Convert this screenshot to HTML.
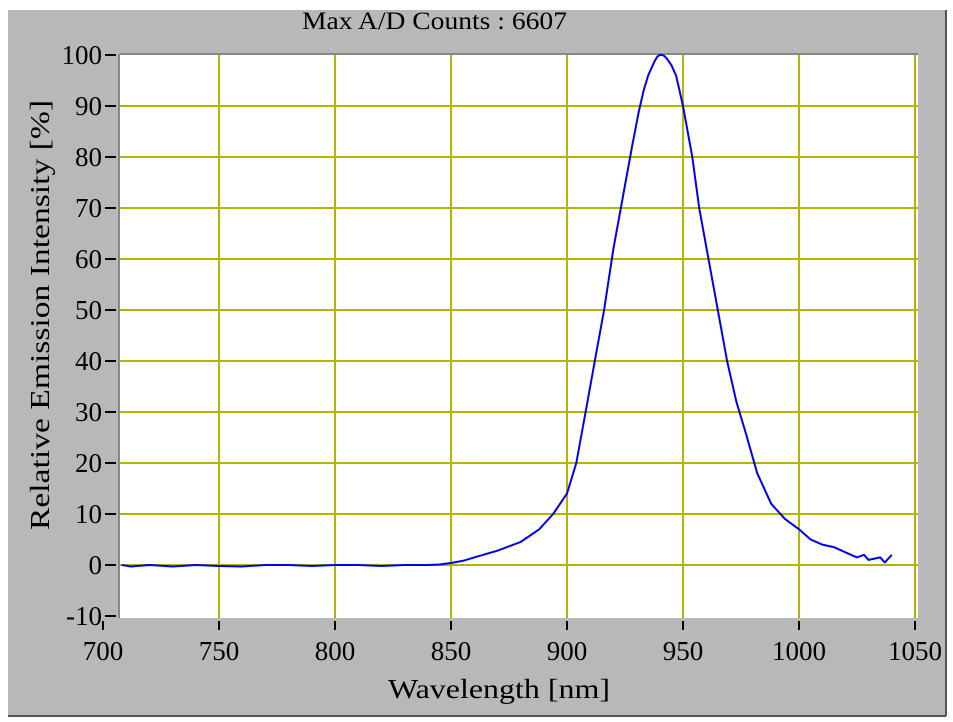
<!DOCTYPE html>
<html><head><meta charset="utf-8"><style>
html,body{margin:0;padding:0;background:#fff;}
svg{display:block;font-family:"Liberation Serif",serif;}
</style></head><body>
<svg width="953" height="722" xmlns="http://www.w3.org/2000/svg">
<rect x="8" y="10" width="938" height="706" fill="#b8b8b8"/>
<line x1="8" y1="716" x2="946" y2="716" stroke="#555" stroke-width="2"/>
<line x1="946" y1="10" x2="946" y2="716" stroke="#555" stroke-width="2"/>
<text x="302" y="29" font-size="25" textLength="265" lengthAdjust="spacingAndGlyphs" fill="#000">Max A/D Counts : 6607</text>
<rect x="120" y="54" width="798" height="564" fill="#fff"/>
<line x1="120" y1="54" x2="918" y2="54" stroke="#888" stroke-width="2"/>
<line x1="119" y1="54" x2="119" y2="618" stroke="#888" stroke-width="2"/>
<g id="grid"></g><g id="axes"></g>
<path id="curve" fill="none" stroke="#0000ee" stroke-width="2" stroke-linejoin="round"/>
<text transform="translate(49,530) rotate(-90)" font-size="27" textLength="430" lengthAdjust="spacingAndGlyphs">Relative Emission Intensity [%]</text>
<text x="388" y="698" font-size="27" textLength="222" lengthAdjust="spacingAndGlyphs">Wavelength [nm]</text>
</svg>
<script>
const xTicks=[700,750,800,850,900,950,1000,1050];
const yTicks=[-10,0,10,20,30,40,50,60,70,80,90,100];
const wavelengths=[708,712,720,730,740,750,760,770,780,790,800,810,820,830,840,845,850,855,860,870,880,888,894,900,904,908,912,916,920,924,928,931,933,935,937,938,939,940,941,942,943,945,947,948,950,954,957,961,965,969,973,977,982,988,994,1000,1005,1010,1015,1020,1025,1028,1030,1035,1037,1040];
const intensity=[0,-0.3,0,-0.3,0,-0.2,-0.3,0,0,-0.2,0,0,-0.2,0,0,0.1,0.4,0.8,1.5,2.8,4.5,7,10,14,20,30,40,50,62,72,82,89,93,96,98,99,99.7,100,100,99.8,99.3,98,96,94,90,80,70,60,50,40,32,26,18,12,9,7,5,4,3.5,2.5,1.5,2,1,1.5,0.5,2];
const X=v=>103+(v-700)*2.32;
const Y=v=>565-v*5.1;
const ns="http://www.w3.org/2000/svg";
const grid=document.getElementById('grid'),axes=document.getElementById('axes');
function mk(t,a,p){const e=document.createElementNS(ns,t);for(const k in a)e.setAttribute(k,a[k]);p.appendChild(e);return e;}
xTicks.forEach(v=>{const x=X(v);
 if(x>121&&x<917){const g=mk('line',{x1:x,y1:55,x2:x,y2:618,stroke:'#b5b500','stroke-width':2},grid);
 
 }
 mk('line',{x1:x,y1:621,x2:x,y2:630,stroke:'#000','stroke-width':2},axes);
 const t=mk('text',{x:x,y:660,'font-size':27,'text-anchor':'middle'},axes);t.textContent=v;
 
 });
yTicks.forEach(v=>{const y=Y(v);
 if(y>56&&y<616){const g=mk('line',{x1:120,y1:y,x2:918,y2:y,stroke:'#b5b500','stroke-width':2},grid);
 
 }
 mk('line',{x1:105,y1:y,x2:116,y2:y,stroke:'#000','stroke-width':2},axes);
 const t=mk('text',{x:102,y:y+9,'font-size':27,'text-anchor':'end'},axes);t.textContent=v;
 
 });
document.getElementById('curve').setAttribute('d',wavelengths.map((w,i)=>(i?'L':'M')+X(w).toFixed(1)+' '+Y(intensity[i]).toFixed(1)).join(' '));
</script>
</body></html>
